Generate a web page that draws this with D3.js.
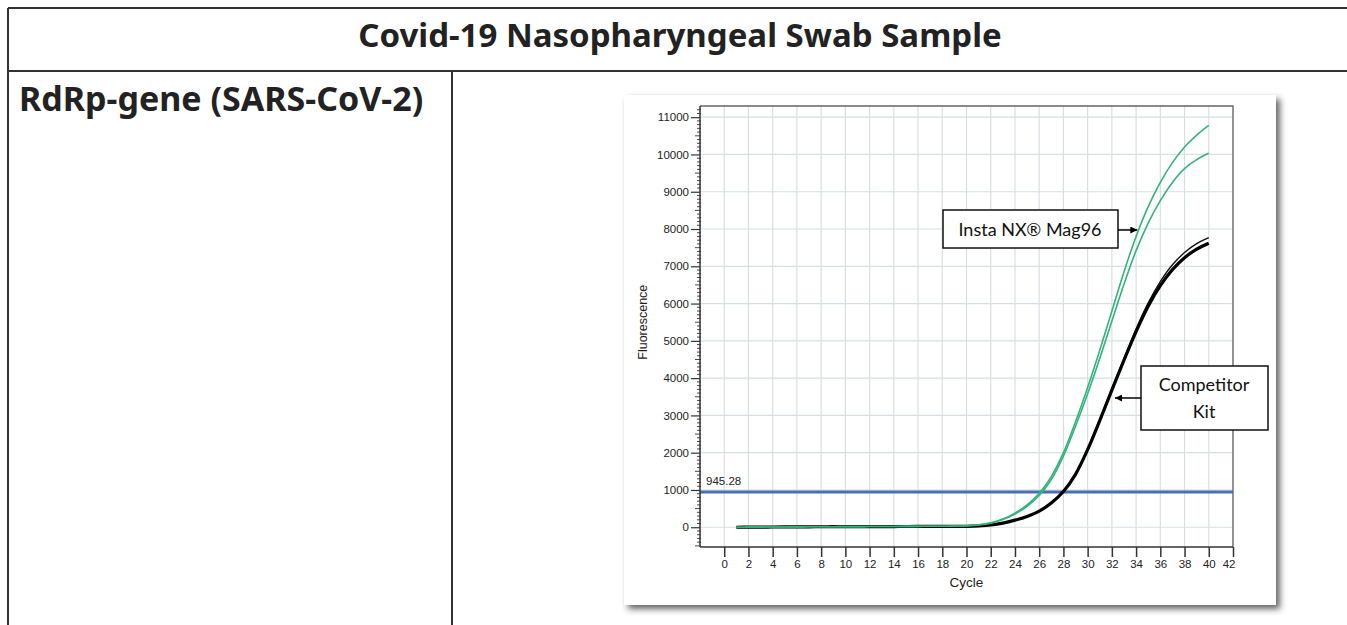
<!DOCTYPE html>
<html>
<head>
<meta charset="utf-8">
<script src="https://cdn.jsdelivr.net/npm/d3@7"></script>
<style>
  body { margin:0; background:#fff; }
  svg { display:block; }
</style>
</head>
<body>
<svg id="chart" width="1347" height="625"></svg>
<script>
// cycles 1..40
var cycles = d3.range(1, 41);

// Insta NX Mag96, two replicates
var instaA = [0,2,4,6,8,10,12,14,15,16,17,18,19,20,22,24,26,28,32,40,
  65,120,220,380,600,910,1360,2000,2830,3750,4750,5800,6850,7800,8600,9250,9780,10200,10520,10780];
var instaB = [0,2,4,6,8,10,12,14,15,16,17,18,19,20,22,24,26,28,31,38,
  60,110,205,355,560,850,1280,1910,2710,3580,4530,5530,6520,7420,8160,8760,9250,9620,9860,10030];
// competitor kit, two replicates
var compA = [0,2,4,6,8,10,12,13,14,15,16,17,18,19,20,21,22,23,24,25,
  35,60,110,190,290,430,650,960,1420,2080,2860,3680,4480,5250,5930,6480,6910,7230,7460,7620];
var compB = [0,2,4,6,8,10,12,13,14,15,16,17,18,19,20,21,22,23,24,25,
  35,60,110,190,290,430,655,970,1435,2100,2890,3720,4530,5320,6020,6590,7040,7370,7610,7770];

var threshold = 945.28;
var xTicks = d3.range(0, 43, 2);
var yTicks = d3.range(0, 11001, 1000);

var svg = d3.select("#chart");

// drop shadow for the pasted chart picture
var defs = svg.append("defs");
var f = defs.append("filter").attr("id","shadow").attr("x","-5%").attr("y","-5%").attr("width","115%").attr("height","115%");
f.append("feDropShadow").attr("dx",4).attr("dy",4).attr("stdDeviation",3).attr("flood-color","#333").attr("flood-opacity",0.75);
defs.append("marker").attr("id","arrow").attr("viewBox","0 0 10 10")
  .attr("refX",10).attr("refY",5).attr("markerWidth",7).attr("markerHeight",7)
  .attr("markerUnits","userSpaceOnUse").attr("orient","auto")
  .append("path").attr("d","M0,0L10,5L0,10z").attr("fill","#000");

// ---- table frame ----
var tbl = svg.append("g").attr("stroke","#333").attr("stroke-width",2);
tbl.append("line").attr("x1",8).attr("x2",1347).attr("y1",8).attr("y2",8);
tbl.append("line").attr("x1",8).attr("x2",1347).attr("y1",71).attr("y2",71);
tbl.append("line").attr("x1",8).attr("x2",8).attr("y1",8).attr("y2",625);
tbl.append("line").attr("x1",452).attr("x2",452).attr("y1",71).attr("y2",625);

svg.append("text").attr("x",680).attr("y",47).attr("text-anchor","middle")
  .style("font-family","'Noto Sans', sans-serif").style("font-weight","700").style("font-size","33px")
  .attr("fill","#222").text("Covid-19 Nasopharyngeal Swab Sample");
svg.append("text").attr("x",19).attr("y",111)
  .style("font-family","'Noto Sans', sans-serif").style("font-weight","700").style("font-size","34px")
  .attr("fill","#222").text("RdRp-gene (SARS-CoV-2)");

// ---- chart picture ----
svg.append("rect").attr("x",624).attr("y",95).attr("width",652).attr("height",510)
  .attr("fill","#fff").attr("filter","url(#shadow)");

var x = d3.scaleLinear().domain([-2, 42]).range([700, 1233]);
var y = d3.scaleLinear().domain([-530, 11300]).range([547, 106]);

var g = svg.append("g");

// grid
g.selectAll(".vg").data(xTicks).enter().append("line")
  .attr("x1",d=>x(d)).attr("x2",d=>x(d)).attr("y1",y(11300)).attr("y2",y(-530))
  .attr("stroke","#d8dfe3").attr("stroke-width",1.2);
g.selectAll(".hg").data(yTicks).enter().append("line")
  .attr("x1",x(-2)).attr("x2",x(42)).attr("y1",d=>y(d)).attr("y2",d=>y(d))
  .attr("stroke","#d8dfe3").attr("stroke-width",1.2);

// frame top / right
g.append("path").attr("d",`M${x(-2)},${y(11300)}H${x(42)}V${y(-530)}`)
  .attr("fill","none").attr("stroke","#666").attr("stroke-width",1.3);

// threshold
g.append("line").attr("x1",x(-2)).attr("x2",x(42)).attr("y1",y(threshold)).attr("y2",y(threshold))
  .attr("stroke","#4a6db3").attr("stroke-width",3);
g.append("text").attr("x",706).attr("y",y(threshold)-7)
  .style("font-family","Arial, 'Liberation Sans', sans-serif").style("font-size","11.5px")
  .attr("fill","#222").text(threshold.toFixed(2));

// curves
var line = d3.line().x((d,i)=>x(cycles[i])).y(d=>y(d)).curve(d3.curveCatmullRom.alpha(0.5));
g.append("path").datum(compB).attr("d",line).attr("fill","none").attr("stroke","#111").attr("stroke-width",1.4);
g.append("path").datum(compA).attr("d",line).attr("fill","none").attr("stroke","#000").attr("stroke-width",3.2);
g.append("path").datum(instaB).attr("d",line).attr("fill","none").attr("stroke","#34b37c").attr("stroke-width",1.6);
g.append("path").datum(instaA).attr("d",line).attr("fill","none").attr("stroke","#34b37c").attr("stroke-width",1.6);

// y axis
var yAxis = d3.axisLeft(y).tickValues(yTicks).tickSize(9).tickPadding(2).tickFormat(d3.format("d"));
var ya = g.append("g").attr("transform",`translate(${x(-2)},0)`).call(yAxis);
ya.select(".domain").attr("stroke","#333").attr("stroke-width",1.5)
  .attr("d",`M0,${y(11300)}V${y(-530)}`);
ya.selectAll(".tick line").attr("stroke","#333").attr("stroke-width",1.2);
ya.selectAll(".tick text").style("font-family","Arial, 'Liberation Sans', sans-serif")
  .style("font-size","11.5px").attr("fill","#222");
var minor = d3.range(-500, 11300, 100).filter(d=>d % 1000 != 0);
ya.selectAll(".minor").data(minor).enter().append("line")
  .attr("x1",d=>(d % 500 == 0 ? -5 : -3)).attr("x2",1)
  .attr("y1",d=>y(d)).attr("y2",d=>y(d))
  .attr("stroke","#333").attr("stroke-width",0.9);

// x axis
var xAxis = d3.axisBottom(x).tickValues(xTicks).tickSize(10).tickPadding(3);
var xa = g.append("g").attr("transform",`translate(0,${y(-530)})`).call(xAxis);
xa.select(".domain").attr("stroke","#333").attr("stroke-width",1.5)
  .attr("d",`M${x(-2)},0H${x(42)}`);
xa.selectAll(".tick line").attr("stroke","#333").attr("stroke-width",1.5);
xa.selectAll(".tick text").style("font-family","Arial, 'Liberation Sans', sans-serif")
  .style("font-size","11.5px").attr("fill","#222");
xa.selectAll(".tick text").filter(d=>d==42).attr("text-anchor","end").attr("dx",2);

// axis titles
g.append("text").attr("transform",`translate(647,${y(5500)}) rotate(-90)`).attr("text-anchor","middle")
  .style("font-family","Arial, 'Liberation Sans', sans-serif").style("font-size","12.5px")
  .attr("fill","#222").text("Fluorescence");
g.append("text").attr("x",x(20)).attr("y",587).attr("text-anchor","middle")
  .style("font-family","Arial, 'Liberation Sans', sans-serif").style("font-size","13.5px")
  .attr("fill","#222").text("Cycle");

// annotations
var ann = svg.append("g").style("font-family","Lato, 'Open Sans', sans-serif").style("font-size","18px");
ann.append("rect").attr("x",943).attr("y",210).attr("width",175).attr("height",38)
  .attr("fill","#fff").attr("stroke","#111").attr("stroke-width",1.5);
ann.append("text").attr("x",1030).attr("y",236).attr("text-anchor","middle").attr("fill","#111")
  .text("Insta NX® Mag96");
ann.append("line").attr("x1",1118).attr("x2",x(34.1)).attr("y1",230).attr("y2",230)
  .attr("stroke","#000").attr("stroke-width",1.5).attr("marker-end","url(#arrow)");

ann.append("rect").attr("x",1141).attr("y",366).attr("width",127).attr("height",64)
  .attr("fill","#fff").attr("stroke","#111").attr("stroke-width",1.5);
ann.append("text").attr("x",1204).attr("y",391).attr("text-anchor","middle").attr("fill","#111").text("Competitor");
ann.append("text").attr("x",1204).attr("y",418).attr("text-anchor","middle").attr("fill","#111").text("Kit");
ann.append("line").attr("x1",1141).attr("x2",1115).attr("y1",398).attr("y2",398)
  .attr("stroke","#000").attr("stroke-width",1.5).attr("marker-end","url(#arrow)");
</script>
</body>
</html>
